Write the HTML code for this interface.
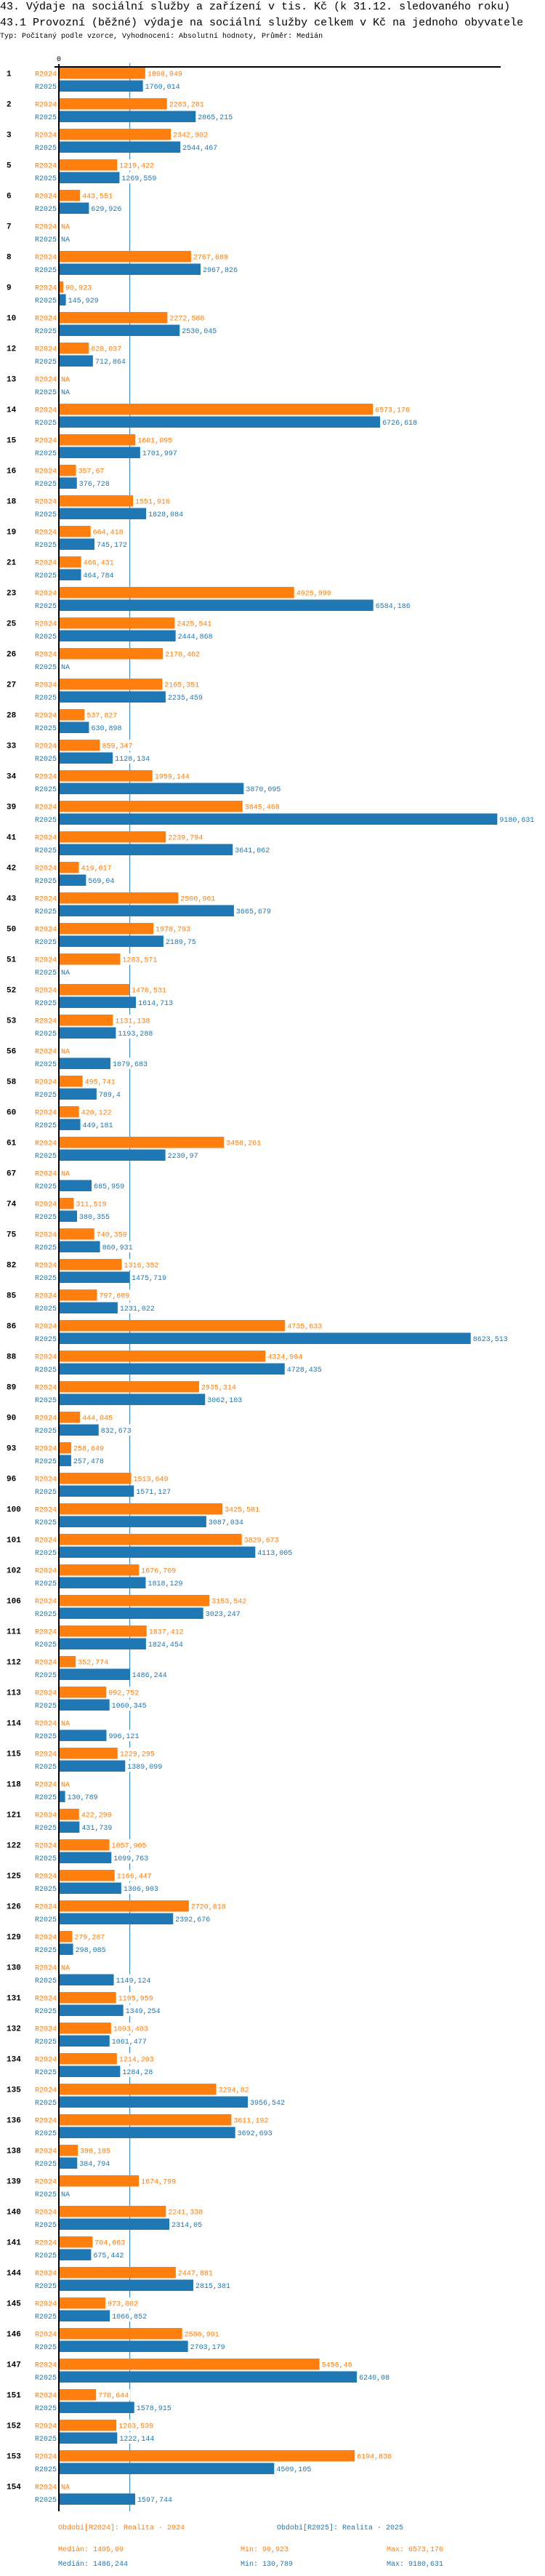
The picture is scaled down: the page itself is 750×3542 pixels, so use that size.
<!DOCTYPE html>
<html lang="cs">
<head>
<meta charset="utf-8">
<title>43.1 Provozní výdaje na sociální služby</title>
<style>
  html,body{margin:0;padding:0;background:#fff;}
  body{width:750px;height:3542px;overflow:hidden;position:relative;font-family:"Liberation Mono",monospace;}
  .t1{position:absolute;left:0;font-size:15px;color:#000;white-space:nowrap;line-height:1;}
  .sub{position:absolute;left:0;font-size:10px;color:#000;white-space:nowrap;line-height:1;}
  svg{position:absolute;left:0;top:0;}
</style>
</head>
<body>
<div class="t1" style="top:2px;">43. Výdaje na sociální služby a zařízení v tis. Kč (k 31.12. sledovaného roku)</div>
<div class="t1" style="top:24px;">43.1 Provozní (běžné) výdaje na sociální služby celkem v Kč na jednoho obyvatele</div>
<div class="sub" style="top:46px;">Typ: Počítaný podle vzorce, Vyhodnocení: Absolutní hodnoty, Průměr: Medián</div>
<svg id="chart" width="750" height="3542" xmlns="http://www.w3.org/2000/svg"></svg>
<script>
const categories = ["1","2","3","5","6","7","8","9","10","12","13","14","15","16","18","19","21","23","25","26","27","28","33","34","39","41","42","43","50","51","52","53","56","58","60","61","67","74","75","82","85","86","88","89","90","93","96","100","101","102","106","111","112","113","114","115","118","121","122","125","126","129","130","131","132","134","135","136","138","139","140","141","144","145","146","147","151","152","153","154"];
const values2024 = [1808.949,2263.281,2342.902,1219.422,443.551,null,2767.689,90.923,2272.588,628.037,null,6573.176,1601.095,357.67,1551.916,664.418,466.431,4925.999,2425.541,2178.402,2165.351,537.827,859.347,1959.144,3845.468,2239.794,419.017,2500.961,1978.793,1283.571,1476.531,1131.138,null,495.741,420.122,3458.261,null,311.519,740.359,1316.352,797.669,4735.633,4324.964,2935.314,444.045,258.649,1513.649,3425.581,3829.673,1676.709,3153.542,1837.412,352.774,992.752,null,1229.295,null,422.299,1057.905,1166.447,2720.818,279.287,null,1195.959,1093.403,1214.203,3294.82,3611.192,396.185,1674.799,2241.338,704.663,2447.881,973.002,2580.991,5456.46,778.644,1203.539,6194.836,null];
const values2025 = [1760.014,2865.215,2544.467,1269.559,629.926,null,2967.826,145.929,2530.045,712.864,null,6726.618,1701.997,376.728,1828.084,745.172,464.784,6584.186,2444.868,null,2235.459,630.898,1128.134,3870.095,9180.631,3641.062,569.04,3665.679,2189.75,null,1614.713,1193.288,1079.683,789.4,449.181,2230.97,685.959,380.355,860.931,1475.719,1231.022,8623.513,4728.435,3062.103,832.673,257.478,1571.127,3087.034,4113.005,1818.129,3023.247,1824.454,1486.244,1060.345,996.121,1389.099,130.789,431.739,1099.763,1306.903,2392.676,298.085,1149.124,1349.254,1061.477,1284.28,3956.542,3692.693,384.794,null,2314.05,675.442,2815.381,1066.852,2703.179,6240.08,1578.915,1222.144,4509.105,1597.744];
const seriesNames = ["R2024","R2025"];
const medianValue = 1486.244;
const footerStats = [
  ["Medián: 1495,09","Min: 90,923","Max: 6573,176"],
  ["Medián: 1486,244","Min: 130,789","Max: 9180,631"]
];

const NS = "http://www.w3.org/2000/svg";
const svg = document.getElementById("chart");
const COLORS = ["#ff7f0e", "#1f77b4"];
const X0 = 81, K = 0.06572;
const TOP = 92, PITCH = 42;
function xScale(v){ return X0 + v * K; }
function yGroup(i){ return TOP + i * PITCH; }
function fmt(v){ return String(v).replace(".", ","); }
function mk(tag, attrs, parent){
  const e = document.createElementNS(NS, tag);
  for (const k in attrs) e.setAttribute(k, attrs[k]);
  (parent || svg).appendChild(e);
  return e;
}
function txt(str, attrs){
  const e = mk("text", attrs);
  e.textContent = str;
  return e;
}

const lastY = yGroup(categories.length - 1) + 43;

// median line
const med = mk("line", {x1: xScale(medianValue), x2: xScale(medianValue), y1: 87, y2: lastY, stroke: "#1f77b4", "stroke-width": 1});



// zero tick label
const zero = txt("0", {x: X0, y: 84, "font-size": 10, "text-anchor": "middle", "font-family": "Liberation Mono, monospace", fill: "#000"});



const series = [values2024, values2025];
categories.forEach((cat, i) => {
  const gy = yGroup(i);
  const lab = txt(cat, {x: 9, y: gy + 12.5, "font-size": 11, "font-weight": "bold", "font-family": "Liberation Mono, monospace", fill: "#000"});
  
  
  series.forEach((vals, s) => {
    const by = gy + 1 + s * 17.5;
    const col = COLORS[s];
    const sl = txt(seriesNames[s], {x: 78, y: by + 11.5, "font-size": 10, "text-anchor": "end", "font-family": "Liberation Mono, monospace", fill: col});
    
    
    const v = vals[i];
    if (v === null) {
      const na = txt("NA", {x: 84, y: by + 11.5, "font-size": 10, "font-family": "Liberation Mono, monospace", fill: col});
      
      
      return;
    }
    const x1 = xScale(v);
    const bar = mk("rect", {x: X0 + 1, y: by, width: Math.max(1, x1 - X0 - 1), height: 15.5, fill: col});
    
    
    const s2 = fmt(v);
    const bg = mk("rect", {x: x1 + 1, y: by, width: s2.length * 6 + 4, height: 15.5, fill: "#fff"});
    
    
    const vt = txt(s2, {x: x1 + 3, y: by + 11.5, "font-size": 10, "font-family": "Liberation Mono, monospace", fill: col});
    
    
  });
});

// axes
const ax = mk("line", {x1: 75, x2: 689, y1: 92, y2: 92, stroke: "#000", "stroke-width": 2});


const ay = mk("line", {x1: 81, x2: 81, y1: 88, y2: lastY, stroke: "#000", "stroke-width": 2});



// legend
const lg1 = txt("Období[R2024]: Realita - 2024", {x: 80, y: 3478, "font-size": 10, "font-family": "Liberation Mono, monospace", fill: COLORS[0]});


const lg2 = txt("Období[R2025]: Realita - 2025", {x: 381, y: 3478, "font-size": 10, "font-family": "Liberation Mono, monospace", fill: COLORS[1]});



const colX = [80, 331, 532];
footerStats.forEach((row, r) => {
  row.forEach((s, c) => {
    const t = txt(s, {x: colX[c], y: 3508 + r * 20, "font-size": 10, "font-family": "Liberation Mono, monospace", fill: COLORS[r]});
    
    
  });
});
</script>
</body>
</html>
